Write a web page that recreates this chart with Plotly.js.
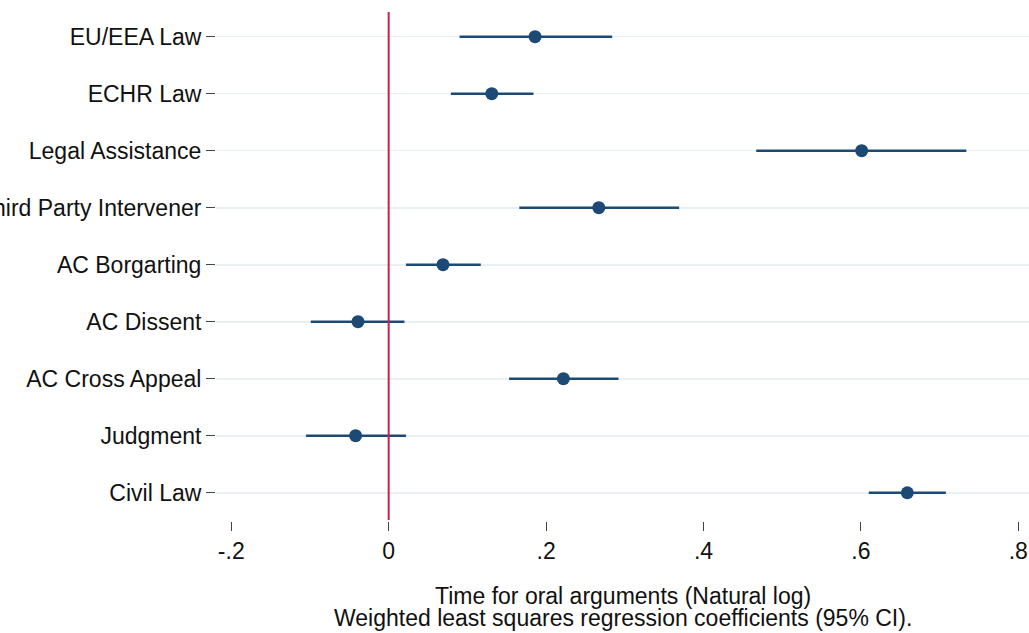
<!DOCTYPE html>
<html>
<head>
<meta charset="utf-8">
<script src="https://cdn.plot.ly/plotly-3.0.1.min.js"></script>
<style>html,body{margin:0;padding:0;background:#fff;}#chart{width:1029px;height:633px;}</style>
</head>
<body>
<div id="chart"></div>
<script>
const categories = ["EU/EEA Law", "ECHR Law", "Legal Assistance", "Third Party Intervener", "AC Borgarting", "AC Dissent", "AC Cross Appeal", "Judgment", "Civil Law"];
const coef  = [0.186, 0.131, 0.601, 0.267, 0.069, -0.039, 0.222, -0.042, 0.659];
const ciLow = [0.090, 0.079, 0.467, 0.166, 0.022, -0.099, 0.153, -0.105, 0.610];
const ciHigh= [0.284, 0.184, 0.734, 0.369, 0.117, 0.020, 0.292, 0.022, 0.708];
const tickVals = [-0.2, 0, 0.2, 0.4, 0.6, 0.8];
const tickText = ["-.2", "0", ".2", ".4", ".6", ".8"];
const titleLine1 = "Time for oral arguments (Natural log)";
const titleLine2 = "Weighted least squares regression coefficients (95% CI).";

const navy = "#1c4a74";
const font = "Liberation Sans, Arial, sans-serif";
const fs = 23;

const trace = {
  type: "scatter",
  mode: "markers",
  x: coef,
  y: categories,
  marker: {color: navy, size: 13},
  error_x: {
    type: "data",
    symmetric: false,
    array: coef.map((c, i) => ciHigh[i] - c),
    arrayminus: coef.map((c, i) => c - ciLow[i]),
    color: navy,
    thickness: 2.6,
    width: 0
  },
  hoverinfo: "x+y",
  showlegend: false
};

const layout = {
  width: 1029,
  height: 633,
  margin: {l: 216, r: 0, t: 12, b: 112, pad: 0},
  paper_bgcolor: "#ffffff",
  plot_bgcolor: "#ffffff",
  font: {family: font, size: fs, color: "#111"},
  xaxis: {
    range: [-0.2194, 0.8136],
    tickvals: tickVals,
    ticktext: tickText,
    ticks: "outside",
    ticklen: 9,
    tickwidth: 1,
    tickcolor: "#444",
    showgrid: false,
    zeroline: false,
    showline: false,
    tickfont: {family: font, size: fs, color: "#111"}
  },
  yaxis: {
    type: "category",
    categoryorder: "array",
    categoryarray: categories,
    range: [8.496, -0.433],
    ticks: "outside",
    ticklen: 9,
    tickwidth: 1,
    tickcolor: "#444",
    showgrid: true,
    gridcolor: "#e9f0f2",
    gridwidth: 1.6,
    zeroline: false,
    showline: false,
    tickfont: {family: font, size: fs, color: "#111"}
  },
  shapes: [{
    type: "line", xref: "x", yref: "paper",
    x0: 0, x1: 0, y0: 0.002, y1: 1,
    line: {color: "#cf1f49", width: 2},
    layer: "above"
  }],
  annotations: [
    {text: titleLine1, xref: "paper", yref: "paper", x: 0.5, y: -0.1466, xanchor: "center", yanchor: "middle", showarrow: false, font: {family: font, size: fs, color: "#111"}},
    {text: titleLine2, xref: "paper", yref: "paper", x: 0.5, y: -0.1899, xanchor: "center", yanchor: "middle", showarrow: false, font: {family: font, size: fs, color: "#111"}}
  ]
};

Plotly.newPlot("chart", [trace], layout, {displayModeBar: false, staticPlot: true});
</script>
</body>
</html>
